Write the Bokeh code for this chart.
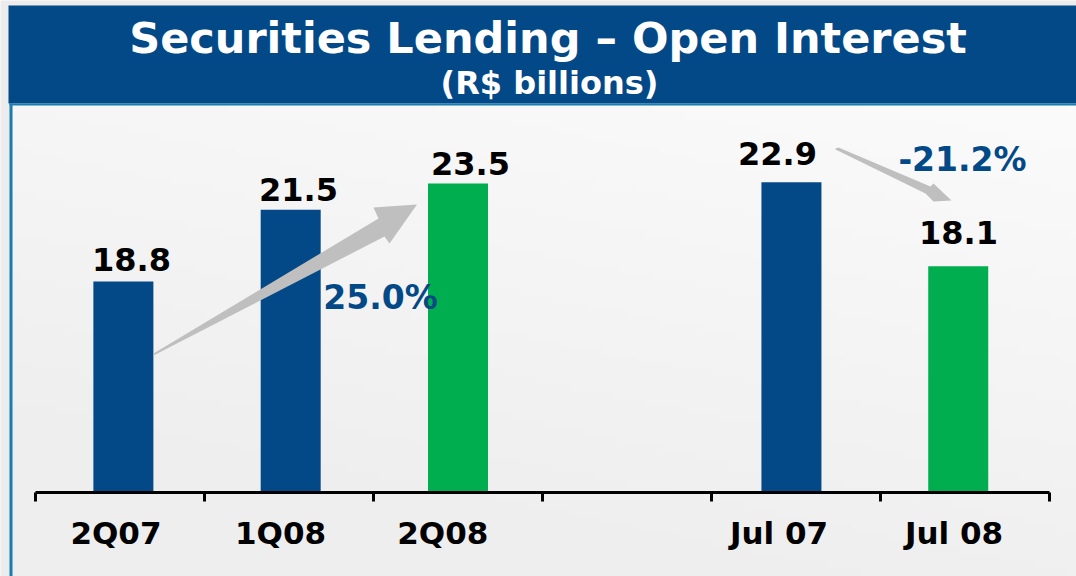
from bokeh.embed import file_html
from bokeh.resources import INLINE
from bokeh.plotting import figure
from bokeh.models import FixedTicker, Range1d, LinearAxis
from bokeh.core.properties import value
import numpy as np

# data
title_text = "Securities Lending \u2013 Open Interest"
subtitle_text = "(R$ billions)"
categories = ["2Q07", "1Q08", "2Q08", "Jul 07", "Jul 08"]
printed_values = ["18.8", "21.5", "23.5", "22.9", "18.1"]
drawn_heights = [16.05, 21.5, 23.5, 23.6, 17.2]   # bars as drawn in the original, which is not to scale
bar_colors = ["#034887", "#034887", "#00AE4F", "#034887", "#00AE4F"]
bar_positions = [0.52, 1.51, 2.50, 4.473, 5.46]
label_positions = [0.476, 1.45, 2.41, 4.40, 5.435]
value_label_x = [131, 298, 470, 777, 958]
value_label_center = [259, 188.5, 163, 153, 232]
change_labels = ["25.0%", "-21.2%"]

PX_PER_CAT = 169.0
PX_PER_UNIT = 13.15
AXIS_X0 = 35
AXIS_Y0 = 492
def X(px):
    return (px - AXIS_X0) / PX_PER_CAT
def Y(py):
    return (AXIS_Y0 - py) / PX_PER_UNIT

p = figure(width=1076, height=576, output_backend="svg", toolbar_location=None,
           x_range=Range1d(X(0), X(1076)), y_range=Range1d(Y(576), Y(0)),
           min_border_left=0, min_border_right=0, min_border_top=0, min_border_bottom=0,
           background_fill_color="#ececec", border_fill_color="#ececec", outline_line_color=None)
p.grid.visible = False
p.yaxis.visible = False
p.xaxis.visible = False

# background gradient of the panel
gy, gx = np.mgrid[0:64, 0:128]
shade = (251 - 11 * gy / 63 - 5 * (1 - gx / 127)).clip(238, 255).astype(np.uint8)
rgba = np.dstack([shade, shade, shade, np.full_like(shade, 255)]).astype(np.uint8)
img = rgba.view(dtype=np.uint32).reshape(shade.shape)[::-1]
p.image_rgba(image=[img], x=X(12), y=Y(576), dw=X(1076) - X(12), dh=Y(104) - Y(576))

# header band and the panel's left and top rules
p.quad(left=X(8), right=X(1076), top=Y(5), bottom=Y(103), color="#034887", line_color=None)
p.quad(left=X(9), right=X(1076), top=Y(103), bottom=Y(105), color="#1a7db0", line_color=None)
p.quad(left=X(9), right=X(12), top=Y(103), bottom=Y(576), color="#1a7db0", line_color=None)

p.text(x=[X(547.5)], y=[Y(37)], text=[title_text], text_font=value("DejaVu Sans"), text_font_style="bold",
       text_font_size="43px", text_color="#ffffff", text_align="center", text_baseline="middle")
p.text(x=[X(549)], y=[Y(82)], text=[subtitle_text], text_font=value("DejaVu Sans"), text_font_style="bold",
       text_font_size="32px", text_color="#ffffff", text_align="center", text_baseline="middle")

p.vbar(x=bar_positions, top=drawn_heights, width=60 / PX_PER_CAT, bottom=0, color=bar_colors, line_color=None)

# grey arrows
p.patch([X(v) for v in [153, 378, 373, 416.5, 389, 384, 153]],
        [Y(v) for v in [353, 218, 207, 204, 243, 236, 355]], color="#BFBFBF", line_color=None)
p.patch([X(v) for v in [835, 838, 930, 933, 951, 933, 925, 835]],
        [Y(v) for v in [148, 147, 186, 183, 200, 201, 193, 149]], color="#BFBFBF", line_color=None)

# value labels
p.text(x=[X(v) for v in value_label_x], y=[Y(v) for v in value_label_center], text=printed_values,
       text_font=value("DejaVu Sans"), text_font_style="bold", text_font_size="32px",
       text_color="#000000", text_align="center", text_baseline="middle")
p.text(x=[X(380), X(962)], y=[Y(297), Y(159)], text=change_labels,
       text_font=value("DejaVu Sans"), text_font_style="bold", text_font_size="33px",
       text_color="#034887", text_align="center", text_baseline="middle")

# axis sits inside the frame at zero
axis = LinearAxis(ticker=FixedTicker(ticks=label_positions, minor_ticks=[0, 1, 2, 3, 4, 5, 6]),
                  major_label_overrides={k: v for k, v in zip(label_positions, categories)},
                  bounds=(0, 6), fixed_location=0, axis_line_color="#000000", axis_line_width=3,
                  major_tick_line_color=None, major_tick_out=0, major_tick_in=0,
                  minor_tick_line_color="#000000", minor_tick_line_width=3,
                  minor_tick_out=9, minor_tick_in=0, major_label_standoff=13,
                  major_label_text_font="DejaVu Sans", major_label_text_font_style="bold",
                  major_label_text_font_size="31px", major_label_text_color="#000000")
p.add_layout(axis, "below")

open("out.html", "w").write(file_html(p, INLINE))
